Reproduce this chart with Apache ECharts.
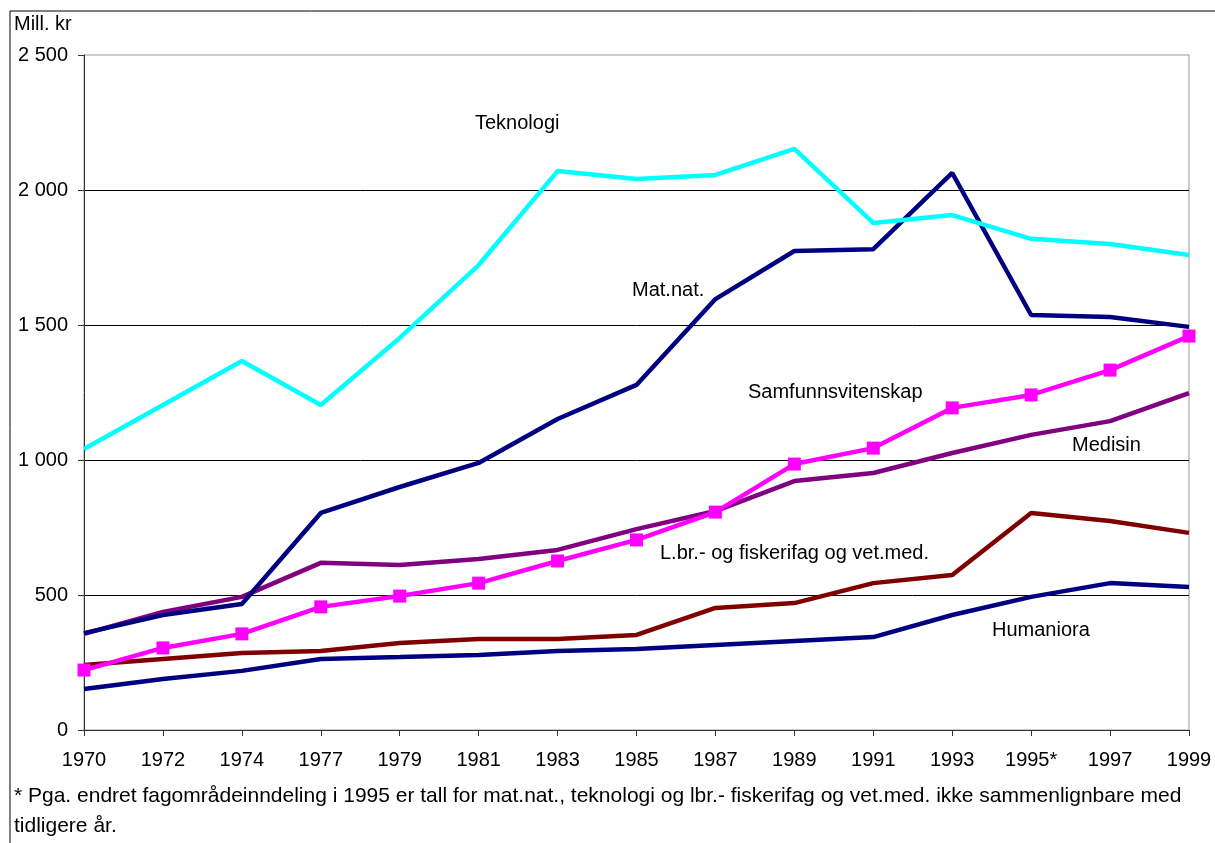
<!DOCTYPE html>
<html><head><meta charset="utf-8">
<script src="https://cdn.jsdelivr.net/npm/echarts@6/dist/echarts.min.js"></script>
<style>html,body{margin:0;padding:0;background:#fff}#c{width:1215px;height:843px}</style>
</head><body><div id="c"></div>
<script>
const years = ['1970','1972','1974','1977','1979','1981','1983','1985','1987','1989','1991','1993','1995*','1997','1999'];
const teknologi = [1041,1204,1367,1204,1452,1722,2070,2041,2056,2152,1878,1907,1819,1800,1759];
const matnat = [359,426,467,804,900,989,1152,1278,1596,1774,1781,2063,1537,1530,1493];
const samfunn = [222,304,356,456,496,544,626,704,807,985,1044,1193,1241,1333,1459];
const medisin = [356,437,493,619,611,633,667,744,811,922,952,1026,1093,1144,1248];
const landbruk = [241,263,285,293,322,337,337,352,452,470,544,574,804,774,730];
const humaniora = [152,189,219,263,270,278,293,300,315,330,344,426,493,544,530];
const yTicks = [0,500,1000,1500,2000,2500];

const FONT = '"Liberation Sans", Arial, sans-serif';
const chart = echarts.init(document.getElementById('c'));
function line(name, data, color, extra) {
  return Object.assign({
    name, type: 'line', data, symbol: 'none', silent: true, animation: false,
    lineStyle: { color, width: 4.5 }, itemStyle: { color }
  }, extra || {});
}
const labelText = (t, x, y, size) => ({ type: 'text', left: x, top: y - 10, style: { text: t, font: (size || 20) + 'px ' + FONT, fill: '#000', verticalAlign: 'top' } });
chart.setOption({
  animation: false,
  grid: { left: 84, right: 26, top: 55, bottom: 113, show: true, borderColor: '#999', borderWidth: 1 },
  xAxis: {
    type: 'category', data: years, boundaryGap: false,
    axisLine: { lineStyle: { color: '#333', width: 1 } },
    axisTick: { show: true, length: 6, lineStyle: { color: '#333' } },
    axisLabel: { color: '#000', fontSize: 20, fontFamily: FONT, margin: 20, interval: 0 }
  },
  yAxis: {
    type: 'value', min: 0, max: 2500, interval: 500,
    axisLine: { show: true, lineStyle: { color: '#333', width: 1 } },
    axisTick: { show: true, length: 6, lineStyle: { color: '#333' } },
    splitLine: { showMaxLine: false, lineStyle: { color: '#000', width: 1 } },
    axisLabel: { color: '#000', fontSize: 20, fontFamily: FONT, margin: 16,
      formatter: v => yTicks.includes(v) ? String(v).replace(/\B(?=(\d{3})+(?!\d))/g, ' ') : '' }
  },
  series: [
    line('Humaniora', humaniora, '#000080'),
    line('L.br.- og fiskerifag og vet.med.', landbruk, '#800000'),
    line('Medisin', medisin, '#800080'),
    line('Samfunnsvitenskap', samfunn, '#FF00FF', { symbol: 'rect', symbolSize: 13, showSymbol: true }),
    line('Mat.nat.', matnat, '#000080'),
    line('Teknologi', teknologi, '#00FFFF')
  ],
  graphic: [
    { type: 'polyline', shape: { points: [[10, 1000], [10, 11], [1300, 11]] }, style: { stroke: '#000', lineWidth: 1, fill: null } },
    labelText('Mill. kr', 14, 24),
    labelText('Teknologi', 475, 123),
    labelText('Mat.nat.', 632, 290),
    labelText('Samfunnsvitenskap', 748, 392),
    labelText('Medisin', 1072, 445),
    labelText('L.br.- og fiskerifag og vet.med.', 660, 553),
    labelText('Humaniora', 992, 630),
    labelText('* Pga. endret fagområdeinndeling i 1995 er tall for mat.nat., teknologi og lbr.- fiskerifag og vet.med. ikke sammenlignbare med', 14, 796, 21),
    labelText('tidligere år.', 14, 826, 21)
  ]
});
</script></body></html>
